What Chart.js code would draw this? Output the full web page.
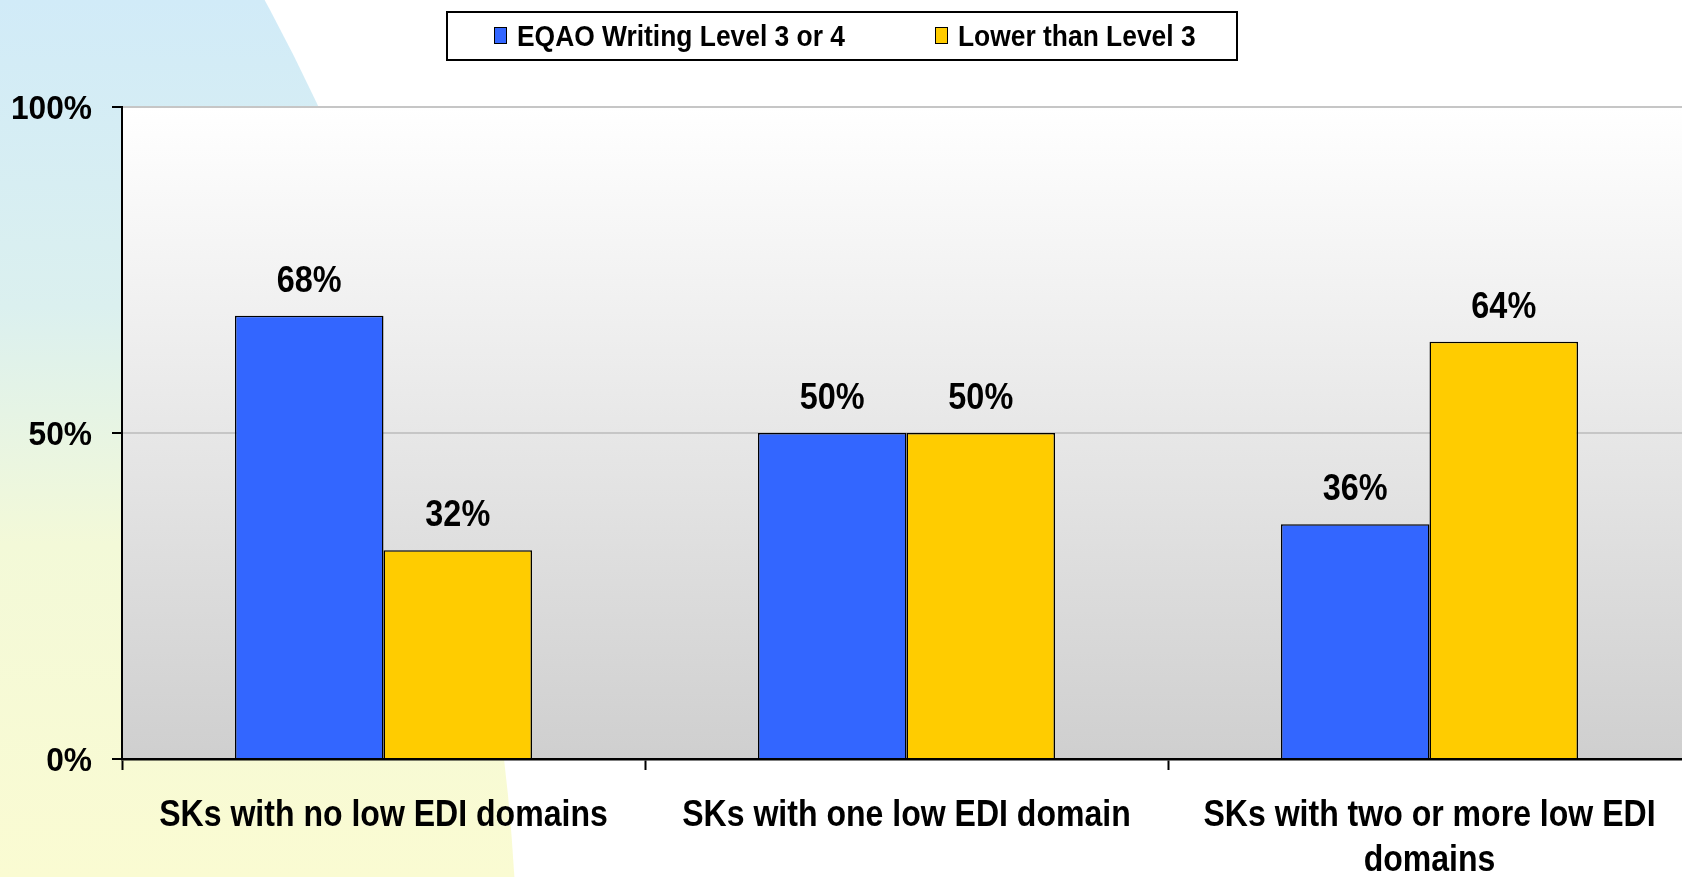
<!DOCTYPE html>
<html>
<head>
<meta charset="utf-8">
<script src="https://cdn.jsdelivr.net/npm/chart.js@4.4.0/dist/chart.umd.min.js"></script>
<style>
  html, body { margin:0; padding:0; background:#fff; overflow:hidden; }
  #wrap { position:relative; width:1700px; height:877px; }
</style>
</head>
<body>
<div id="wrap">
  <canvas id="grafico"></canvas>
</div>
<script>
// dados
let categorias = [
  ["SKs with no low EDI domains"],
  ["SKs with one low EDI domain"],
  ["SKs with two or more low EDI", "domains"]
];
let nivel3ou4 = [68, 50, 36];
let abaixoNivel3 = [32, 50, 64];
let nomesSeries = ["EQAO Writing Level 3 or 4", "Lower than Level 3"];
let ticksY = [0, 50, 100];
let cores = ["#3366ff", "#ffcc00"];

let fonte = "'Liberation Sans', Arial, sans-serif";

// texto em negrito, um pouco comprimido na horizontal como no slide
function texto(c, s, x, y, tam, sx, alinh){
  c.save();
  c.translate(x, y);
  c.scale(sx, 1);
  c.font = "bold " + tam + "px " + fonte;
  c.fillStyle = "#000";
  c.textAlign = alinh;
  c.textBaseline = "alphabetic";
  c.fillText(s, 0, 0);
  c.restore();
}

// fundo do slide + area do grafico
let fundo = {
  id: "fundo",
  beforeDraw(chart){
    let c = chart.ctx, a = chart.chartArea;
    c.save();
    let g = c.createLinearGradient(0, 0, 0, chart.height);
    g.addColorStop(0, "#d1ebf8");
    g.addColorStop(0.35, "#dbf0ef");
    g.addColorStop(0.62, "#f3f9d8");
    g.addColorStop(1, "#fafbd2");
    c.fillStyle = g;
    c.beginPath();
    c.arc(-1582, 1000, 2100, 0, Math.PI*2);
    c.fill();
    let g2 = c.createLinearGradient(0, a.top, 0, a.bottom);
    g2.addColorStop(0, "#ffffff");
    g2.addColorStop(1, "#cfcfcf");
    c.fillStyle = g2;
    c.fillRect(a.left, a.top, a.right - a.left, a.bottom - a.top);
    c.restore();
  }
};

// rotulos: valores, eixos e legenda
let textos = {
  id: "textos",
  afterDraw(chart){
    let c = chart.ctx;
    let sy = chart.scales.y, sxs = chart.scales.x;

    chart.data.datasets.forEach((ds, i) => {
      chart.getDatasetMeta(i).data.forEach((bar, j) => {
        texto(c, ds.data[j] + "%", bar.x, bar.y - 24, 36, 0.9, "center");
      });
    });

    ticksY.forEach(v => {
      texto(c, v + "%", 92, sy.getPixelForValue(v) + 12, 33, 0.96, "right");
    });

    categorias.forEach((linhas, i) => {
      let x = sxs.getPixelForValue(i);
      linhas.forEach((l, k) => {
        texto(c, l, x, sxs.top + 67 + k * 45, 36, 0.89, "center");
      });
    });

    // legenda com moldura
    c.save();
    c.fillStyle = "#fff";
    c.fillRect(447, 12, 790, 48);
    c.strokeStyle = "#000";
    c.lineWidth = 2;
    c.strokeRect(447, 12, 790, 48);
    let xs = [494, 935];
    chart.data.datasets.forEach((ds, i) => {
      c.fillStyle = ds.backgroundColor;
      c.fillRect(xs[i], 27, 13, 17);
      c.lineWidth = 1;
      c.strokeRect(xs[i] + 0.5, 27.5, 12, 16);
      texto(c, ds.label, xs[i] + 23, 46, 29, 0.91, "left");
    });
    c.restore();
  }
};

let ctx = document.getElementById("grafico").getContext("2d");
let grafico = new Chart(ctx, {
  type: "bar",
  data: {
    labels: categorias,
    datasets: [
      { label: nomesSeries[0], data: nivel3ou4, backgroundColor: cores[0], borderColor: "#000", borderWidth: 1.5 },
      { label: nomesSeries[1], data: abaixoNivel3, backgroundColor: cores[1], borderColor: "#000", borderWidth: 1.5 }
    ]
  },
  options: {
    responsive: true,
    maintainAspectRatio: false,
    animation: false,
    layout: { padding: { top: 107, right: 9, left: 0, bottom: 0 } },
    datasets: { bar: { barPercentage: 1, categoryPercentage: 0.568 } },
    plugins: { legend: { display: false }, tooltip: { enabled: false } },
    scales: {
      x: {
        grid: { offset: true, drawOnChartArea: false, drawTicks: true, tickLength: 11, tickColor: "#000", tickWidth: 2 },
        border: { color: "#000", width: 2.5 },
        ticks: { display: false },
        afterFit(scale){ scale.height = 118; scale.paddingLeft = 0; scale.paddingRight = 0; }
      },
      y: {
        min: 0, max: 100,
        afterBuildTicks(scale){ scale.ticks = ticksY.map(v => ({ value: v })); },
        grid: {
          color: c => c.tick && c.tick.value === 0 ? "rgba(0,0,0,0)" : "#c6c6c6",
          lineWidth: 2, tickLength: 10, tickColor: "#000", tickWidth: 2
        },
        border: { color: "#000", width: 2 },
        ticks: { display: false },
        afterFit(scale){ scale.width = 122; scale.paddingTop = 0; scale.paddingBottom = 0; }
      }
    }
  },
  plugins: [fundo, textos]
});
document.getElementById("grafico").parentNode.style.height = "877px";
</script>
</body>
</html>
